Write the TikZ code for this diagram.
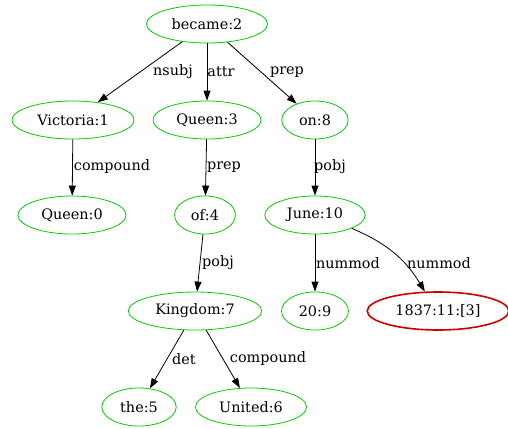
\documentclass[tikz,border=0pt]{standalone}
\usepackage{fontspec}
\setmainfont{DejaVu Serif}
\usetikzlibrary{shapes.geometric, arrows.meta, positioning}
\definecolor{tokgreen}{RGB}{0,205,0}
\definecolor{tokred}{RGB}{205,0,0}

\begin{document}
\begin{tikzpicture}[
        x=1pt, y=-1pt,
        every node/.style={font=\fontsize{14.4}{16}\selectfont},
        tok/.style={ellipse, draw=tokgreen, line width=0.8pt, inner xsep=7.5pt, inner ysep=0pt, minimum height=38pt, minimum width=54pt},
        errtok/.style={tok, draw=tokred, line width=1.6pt},
        dep/.style={-{Triangle[length=10pt,width=7pt]}, line width=0.8pt},
        lab/.style={inner sep=0pt}]

        \useasboundingbox (0,0) rectangle (508,428);

        \node[tok] (became) at (207,24) {became:2};
        \node[tok] (victoria) at (73,120) {Victoria:1};
        \node[tok] (queenA) at (207,120) {Queen:3};
        \node[tok] (on) at (315,120) {on:8};
        \node[tok] (queenB) at (72,215) {Queen:0};
        \node[tok] (of) at (205,215) {of:4};
        \node[tok] (june) at (315,215) {June:10};
        \node[tok] (kingdom) at (195,311) {Kingdom:7};
        \node[tok] (twenty) at (315,311) {20:9};
        \node[errtok] (year) at (438,311) {1837:11:[3]};
        \node[tok] (the) at (139,407) {the:5};
        \node[tok] (united) at (251,407) {United:6};

        \draw[dep] (became) -- (victoria);
        \draw[dep] (became) -- (queenA);
        \draw[dep] (became) -- (on);
        \draw[dep] (victoria) -- (queenB);
        \draw[dep] (queenA) -- (of);
        \draw[dep] (on) -- (june);
        \draw[dep] (of) -- (kingdom);
        \draw[dep] (june) -- (twenty);
        \draw[dep] (june) to[bend left=18] (year);
        \draw[dep] (kingdom) -- (the);
        \draw[dep] (kingdom) -- (united);

        % edge labels
        \node[lab] (l-nsubj) at (173,72) {nsubj};
        \node[lab] (l-attr) at (221,72) {attr};
        \node[lab] (l-prepA) at (287,72) {prep};
        \node[lab] (l-compA) at (112,167) {compound};
        \node[lab] (l-prepB) at (224,167) {prep};
        \node[lab] (l-pobjA) at (330,167) {pobj};
        \node[lab] (l-pobjB) at (218,263) {pobj};
        \node[lab] (l-numA) at (348,263) {nummod};
        \node[lab] (l-numB) at (439,263) {nummod};
        \node[lab] (l-det) at (184,359) {det};
        \node[lab] (l-compB) at (268,359) {compound};

    \end{tikzpicture}
\end{document}
